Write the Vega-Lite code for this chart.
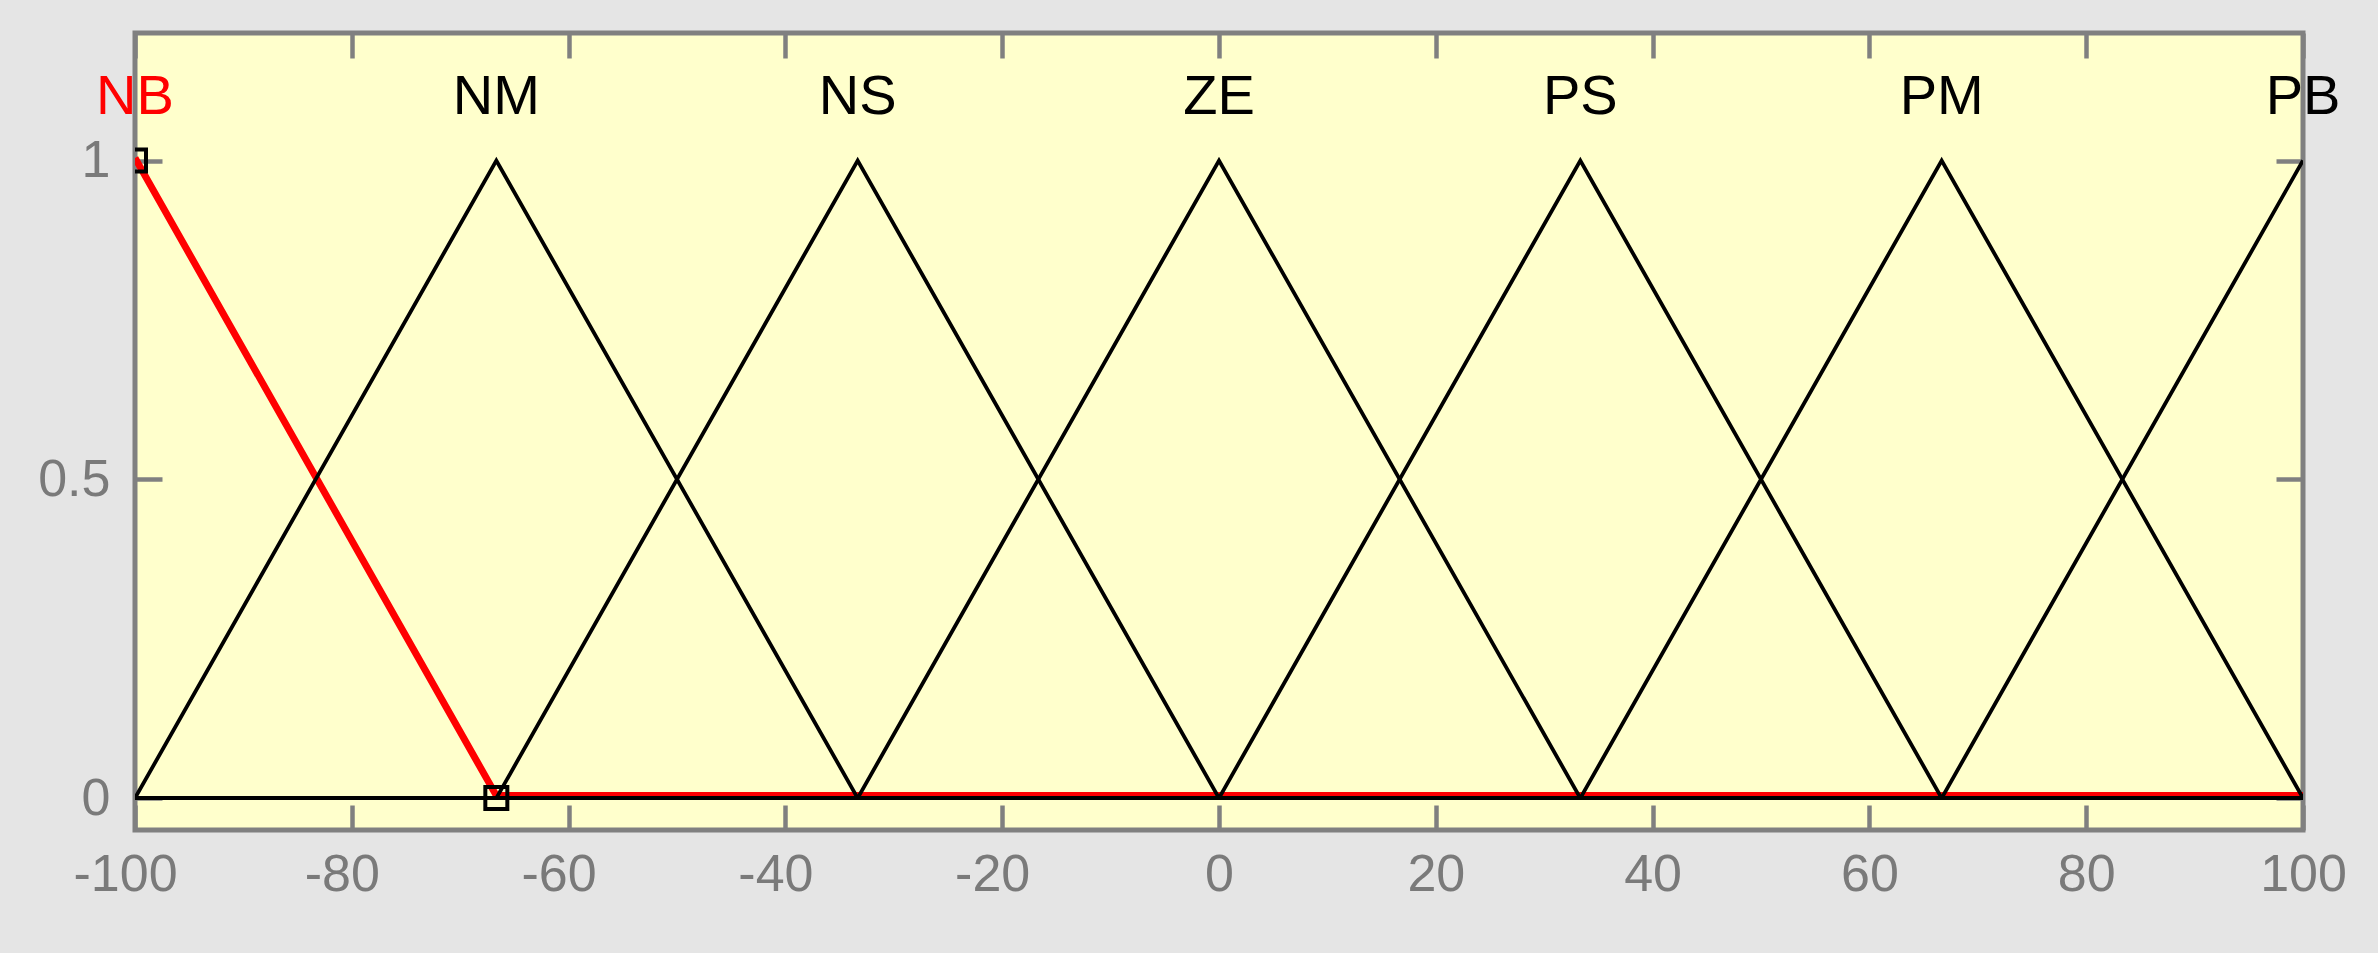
{
  "$schema": "https://vega.github.io/schema/vega-lite/v6.json",
  "width": 2168,
  "height": 797,
  "autosize": {"type": "none"},
  "padding": {"left": 135, "top": 33, "right": 75, "bottom": 123},
  "background": "#e5e5e5",
  "view": {"fill": "#ffffcc", "stroke": "#808080", "strokeWidth": 5},
  "config": {
    "axis": {
      "grid": false,
      "domain": false,
      "title": null,
      "labelFont": "Liberation Sans",
      "labelFontSize": 52,
      "labelColor": "#7a7a7a",
      "tickColor": "#808080",
      "tickWidth": 4.5
    }
  },
  "datasets": {
    "mfs": [
      {"mf": "NB", "x": -100, "y": 1},
      {"mf": "NB", "x": -66.667, "y": 0},
      {"mf": "NB", "x": 100, "y": 0},
      {"mf": "NM", "x": -100, "y": 0},
      {"mf": "NM", "x": -66.667, "y": 1},
      {"mf": "NM", "x": -33.333, "y": 0},
      {"mf": "NM", "x": 100, "y": 0},
      {"mf": "NS", "x": -100, "y": 0},
      {"mf": "NS", "x": -66.667, "y": 0},
      {"mf": "NS", "x": -33.333, "y": 1},
      {"mf": "NS", "x": 0, "y": 0},
      {"mf": "NS", "x": 100, "y": 0},
      {"mf": "ZE", "x": -100, "y": 0},
      {"mf": "ZE", "x": -33.333, "y": 0},
      {"mf": "ZE", "x": 0, "y": 1},
      {"mf": "ZE", "x": 33.333, "y": 0},
      {"mf": "ZE", "x": 100, "y": 0},
      {"mf": "PS", "x": -100, "y": 0},
      {"mf": "PS", "x": 0, "y": 0},
      {"mf": "PS", "x": 33.333, "y": 1},
      {"mf": "PS", "x": 66.667, "y": 0},
      {"mf": "PS", "x": 100, "y": 0},
      {"mf": "PM", "x": -100, "y": 0},
      {"mf": "PM", "x": 33.333, "y": 0},
      {"mf": "PM", "x": 66.667, "y": 1},
      {"mf": "PM", "x": 100, "y": 0},
      {"mf": "PB", "x": -100, "y": 0},
      {"mf": "PB", "x": 66.667, "y": 0},
      {"mf": "PB", "x": 100, "y": 1}
    ],
    "handles": [
      {"x": -100, "y": 1},
      {"x": -66.667, "y": 0}
    ],
    "names": [
      {"name": "NB", "x": -100},
      {"name": "NM", "x": -66.667},
      {"name": "NS", "x": -33.333},
      {"name": "ZE", "x": 0},
      {"name": "PS", "x": 33.333},
      {"name": "PM", "x": 66.667},
      {"name": "PB", "x": 100}
    ]
  },
  "resolve": {"axis": {"x": "independent", "y": "independent"}},
  "layer": [
    {
      "data": {"name": "mfs"},
      "transform": [{"filter": "datum.mf === 'NB'"}],
      "mark": {"type": "line", "color": "#ff0000", "strokeWidth": 7, "yOffset": -2.5, "clip": true},
      "encoding": {
        "x": {
          "field": "x", "type": "quantitative",
          "scale": {"domain": [-100, 100], "nice": false, "zero": false},
          "axis": {
            "orient": "bottom",
            "values": [-100, -80, -60, -40, -20, 0, 20, 40, 60, 80, 100],
            "labelExpr": "'' + datum.value",
            "tickSize": -25,
            "labelPadding": 44,
            "labelFlush": false,
            "labelOffset": {"condition": {"test": "datum.value < 0", "value": -10}, "value": 0}
          }
        },
        "y": {
          "field": "y", "type": "quantitative",
          "scale": {"domain": [-0.05, 1.2], "nice": false, "zero": false},
          "axis": {"orient": "left", "values": [0, 0.5, 1], "labelExpr": "'' + datum.value", "tickSize": -27, "labelPadding": 52, "labelBaseline": "middle"}
        }
      }
    },
    {
      "data": {"name": "mfs"},
      "transform": [{"filter": "datum.mf !== 'NB'"}],
      "mark": {"type": "line", "color": "#000000", "strokeWidth": 3.8, "clip": true},
      "encoding": {
        "x": {
          "field": "x", "type": "quantitative",
          "axis": {"orient": "top", "values": [-100, -80, -60, -40, -20, 0, 20, 40, 60, 80, 100], "labels": false, "tickSize": -25}
        },
        "y": {
          "field": "y", "type": "quantitative",
          "axis": {"orient": "right", "values": [0, 0.5, 1], "labels": false, "tickSize": -27}
        },
        "detail": {"field": "mf"}
      }
    },
    {
      "data": {"name": "handles"},
      "mark": {"type": "point", "shape": "square", "filled": false, "stroke": "#000000", "strokeWidth": 4, "size": 484, "opacity": 1, "clip": true},
      "encoding": {
        "x": {"field": "x", "type": "quantitative", "axis": null},
        "y": {"field": "y", "type": "quantitative", "axis": null}
      }
    },
    {
      "data": {"name": "names"},
      "mark": {"type": "text", "font": "Liberation Sans", "fontSize": 56, "align": "center", "baseline": "middle"},
      "encoding": {
        "x": {"field": "x", "type": "quantitative", "axis": null},
        "y": {"datum": 1.1, "type": "quantitative", "axis": null},
        "text": {"field": "name"},
        "color": {"condition": {"test": "datum.name === 'NB'", "value": "#ff0000"}, "value": "#000000"}
      }
    }
  ]
}
